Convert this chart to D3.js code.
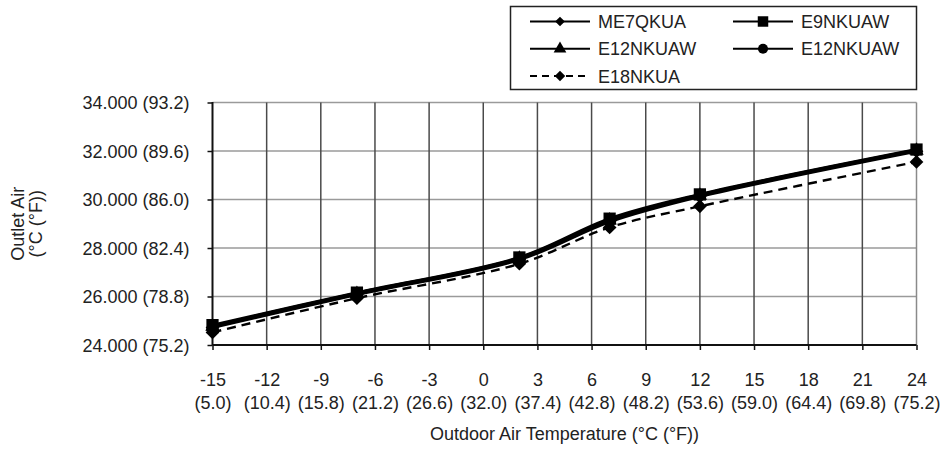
<!DOCTYPE html>
<html>
<head>
<meta charset="utf-8">
<script src="https://cdn.jsdelivr.net/npm/d3@7"></script>
<style>
html,body{margin:0;padding:0;background:#fff;}
svg{display:block;font-family:"Liberation Sans",Arial,sans-serif;}
</style>
</head>
<body>
<svg id="chart" width="942" height="449"></svg>
<script>
// ---- data ----
const xTicksC = [-15,-12,-9,-6,-3,0,3,6,9,12,15,18,21,24];
const xTicksF = ["(5.0)","(10.4)","(15.8)","(21.2)","(26.6)","(32.0)","(37.4)","(42.8)","(48.2)","(53.6)","(59.0)","(64.4)","(69.8)","(75.2)"];
const yTicksC = [24,26,28,30,32,34];
const yTicksF = ["(75.2)","(78.8)","(82.4)","(86.0)","(89.6)","(93.2)"];
const outdoorTemp = [-15,-7,2,7,12,24];
const seriesNames = ["ME7QKUA","E9NKUAW","E12NKUAW","E12NKUAW","E18NKUA"];
const me7qkua   = [24.72,26.08,27.52,29.08,30.12,31.99];
const e9nkuaw   = [24.82,26.16,27.61,29.21,30.21,32.06];
const e12nkuawA = [24.76,26.11,27.56,29.14,30.16,32.02];
const e12nkuawB = [24.79,26.14,27.59,29.17,30.19,32.04];
const e18nkua   = [24.52,25.93,27.35,28.85,29.72,31.55];

const svg = d3.select("#chart");
const pL = 212.5, pR = 916.5, pT = 102.5, pB = 345;
const x = d3.scaleLinear().domain([-15,24]).range([pL,pR]);
const y = d3.scaleLinear().domain([24,34]).range([pB,pT]);
const FS = 18;

// grid
svg.append("g").selectAll("line").data(yTicksC.filter(d=>d>24)).join("line")
  .attr("x1",pL).attr("x2",pR).attr("y1",d=>y(d)).attr("y2",d=>y(d))
  .attr("stroke","#9a9a9a").attr("stroke-width",1.5);
svg.append("g").selectAll("line").data(xTicksC.filter(d=>d>-15)).join("line")
  .attr("x1",d=>x(d)).attr("x2",d=>x(d)).attr("y1",pT).attr("y2",pB)
  .attr("stroke",d=>d===24?"#8a8a8a":"#4a4a4a").attr("stroke-width",1.5);

// axes
const yAxis = d3.axisLeft(y).tickValues(yTicksC).tickSize(5).tickFormat("");
const gy = svg.append("g").attr("transform",`translate(${pL},0)`).call(yAxis);
gy.select(".domain").attr("stroke","#111").attr("stroke-width",2).attr("d",`M0,${pT-0.5}V${pB}`);
gy.selectAll(".tick line").attr("stroke","#111").attr("stroke-width",1.5);
gy.selectAll(".tick").append("text")
  .attr("x",-23).attr("dy","0.36em").attr("text-anchor","end")
  .attr("fill","#222").attr("font-size",FS)
  .text((d,i)=>d3.format(".3f")(d)+" "+yTicksF[i]);

const xAxis = d3.axisBottom(x).tickValues(xTicksC).tickSize(5).tickFormat("");
const gx = svg.append("g").attr("transform",`translate(0,${pB})`).call(xAxis);
gx.select(".domain").attr("stroke","#111").attr("stroke-width",2).attr("d",`M${pL},0H${pR}`);
gx.selectAll(".tick line").attr("stroke","#111").attr("stroke-width",1.5);
const tt = gx.selectAll(".tick").append("text").attr("text-anchor","middle")
  .attr("fill","#222").attr("font-size",FS);
tt.append("tspan").attr("x",0).attr("y",40.5).text(d=>String(d));
tt.append("tspan").attr("x",0).attr("y",63.5).text((d,i)=>xTicksF[i]);

// axis titles
svg.append("text").attr("x",(pL+pR)/2 + 0).attr("y",440).attr("text-anchor","middle")
  .attr("fill","#222").attr("font-size",FS).text("Outdoor Air Temperature (°C (°F))");
const yt = svg.append("text").attr("transform",`translate(24,${(pT+pB)/2}) rotate(-90)`)
  .attr("text-anchor","middle").attr("fill","#222").attr("font-size",FS);
yt.append("tspan").attr("x",0).attr("y",0).text("Outlet Air");
yt.append("tspan").attr("x",0).attr("y",18).text("(°C (°F))");

// series
const line = d3.line().x((d,i)=>x(outdoorTemp[i])).y(d=>y(d)).curve(d3.curveCatmullRom.alpha(0.5));
const series = [
  {name:seriesNames[4], vals:e18nkua, dash:"9,6", sym:d3.symbolDiamond2, size:120},
  {name:seriesNames[0], vals:me7qkua, dash:null, sym:d3.symbolDiamond2, size:120},
  {name:seriesNames[2], vals:e12nkuawA, dash:null, sym:d3.symbolTriangle, size:90},
  {name:seriesNames[3], vals:e12nkuawB, dash:null, sym:d3.symbolCircle, size:90},
  {name:seriesNames[1], vals:e9nkuaw, dash:null, sym:d3.symbolSquare, size:150}
];
series.forEach(s=>{
  svg.append("path").attr("d",line(s.vals)).attr("fill","none").attr("stroke","#000")
    .attr("stroke-width",s.dash?2.4:3).attr("stroke-dasharray",s.dash);
});
series.forEach(s=>{
  svg.append("g").selectAll("path").data(s.vals).join("path")
    .attr("transform",(d,i)=>`translate(${x(outdoorTemp[i])},${y(d)})`)
    .attr("d",d3.symbol(s.sym,s.size)).attr("fill","#000");
});

// legend
const lg = svg.append("g");
lg.append("rect").attr("x",510.5).attr("y",6.5).attr("width",406).attr("height",83)
  .attr("fill","#fff").attr("stroke","#222").attr("stroke-width",1.5);
const legendItems = [
  {name:seriesNames[0], sym:d3.symbolDiamond2, size:60, dash:null, col:0, row:0},
  {name:seriesNames[1], sym:d3.symbolSquare, size:110, dash:null, col:1, row:0},
  {name:seriesNames[2], sym:d3.symbolTriangle, size:70, dash:null, col:0, row:1},
  {name:seriesNames[3], sym:d3.symbolCircle, size:80, dash:null, col:1, row:1},
  {name:seriesNames[4], sym:d3.symbolDiamond2, size:70, dash:"7,5", col:0, row:2}
];
legendItems.forEach(it=>{
  const lx = it.col===0 ? 530 : 733;
  const ly = 21.5 + it.row*27.3;
  lg.append("line").attr("x1",lx).attr("x2",lx+60).attr("y1",ly).attr("y2",ly)
    .attr("stroke","#000").attr("stroke-width",2).attr("stroke-dasharray",it.dash);
  lg.append("path").attr("transform",`translate(${lx+30},${ly})`).attr("d",d3.symbol(it.sym,it.size)).attr("fill","#000");
  lg.append("text").attr("x",lx+68).attr("y",ly).attr("dy","0.36em").attr("fill","#222")
    .attr("font-size",FS).text(it.name);
});
</script>
</body>
</html>
